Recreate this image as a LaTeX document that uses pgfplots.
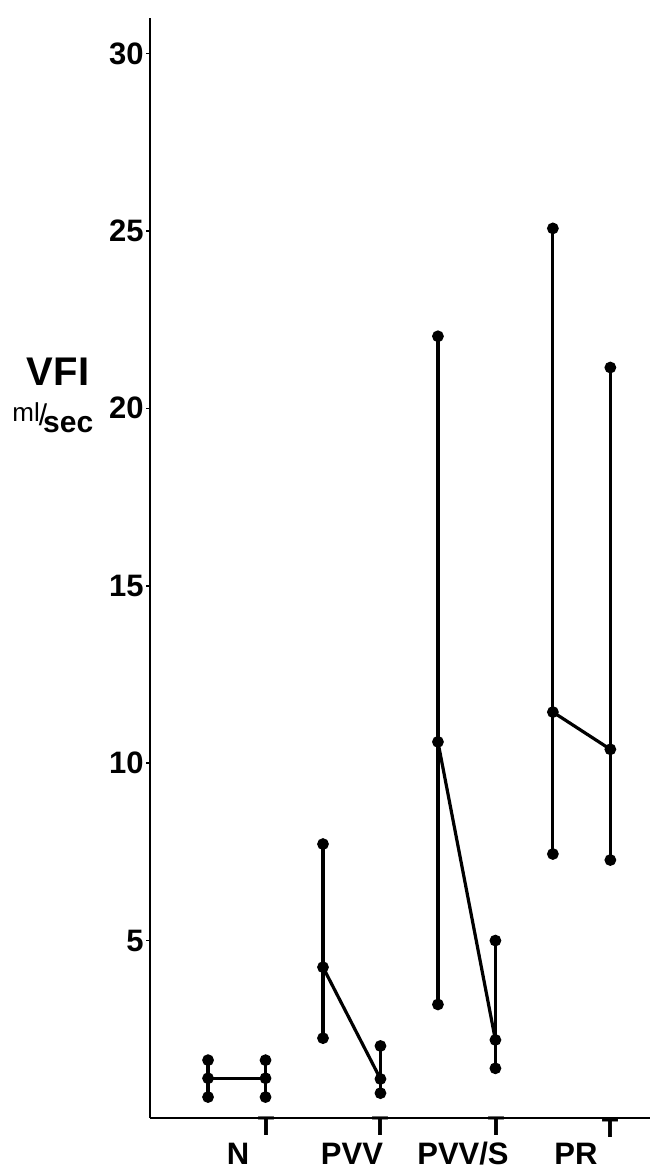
\documentclass[border=0pt]{standalone}
\usepackage{fontspec}
\setmainfont{Liberation Sans}
\usepackage{pgfplots}
\pgfplotsset{compat=1.18}
\begin{document}
\begin{tikzpicture}
\useasboundingbox (0,0) rectangle (325pt,588pt);
\begin{axis}[
  at={(75pt,29pt)}, anchor=south west,
  scale only axis, width=250pt, height=550pt,
  xmin=-1.01, xmax=7.69, ymin=0, ymax=31,
  axis lines=left,
  axis line style={line width=1.2pt, -},
  xtick=\empty,
  ytick={5,10,15,20,25,30},
  tick align=outside, major tick length=2pt,
  tick style={line width=0.8pt, black},
  yticklabel style={font=\fontsize{15.5}{15.5}\selectfont\bfseries, inner sep=1pt},
  /pgf/number format/assume math mode=true,
  clip=false,
  seg/.style={black, solid, line width=1.6pt, mark=*, mark size=2.1pt, mark options={solid, fill=black}},
]
% vertical ranges
\addplot[seg] coordinates {(0,0.59) (0,1.63)};
\addplot[seg] coordinates {(1,0.59) (1,1.63)};
\addplot[seg] coordinates {(2,2.25) (2,7.72)};
\addplot[seg] coordinates {(3,0.70) (3,2.03)};
\addplot[seg] coordinates {(4,3.2) (4,22.03)};
\addplot[seg] coordinates {(5,1.4) (5,5.0)};
\addplot[seg] coordinates {(6,7.44) (6,25.07)};
\addplot[seg] coordinates {(7,7.27) (7,21.15)};
% means connected
\addplot[seg] coordinates {(0,1.12) (1,1.12)};
\addplot[seg] coordinates {(2,4.25) (3,1.10)};
\addplot[seg] coordinates {(4,10.6) (5,2.2)};
\addplot[seg] coordinates {(6,11.44) (7,10.39)};
\end{axis}
\begin{scope}[every node/.style={inner sep=0pt, font=\fontsize{15.5}{15.5}\selectfont\bfseries}]
\node at (119pt,11pt) {N};
\node at (176pt,11pt) {PVV};
\node at (231.5pt,11pt) {PVV/S};
\node at (288pt,11pt) {PR};
\end{scope}
\begin{scope}[every node/.style={inner sep=0pt, anchor=north, font=\fontsize{13.5}{13.5}\selectfont\bfseries}]
\node at (133pt,29.5pt) {T};
\node at (190pt,29.5pt) {T};
\node at (248pt,29.5pt) {T};
\node at (305pt,28.5pt) {T};
\end{scope}
\node[inner sep=0pt, font=\fontsize{20}{20}\selectfont\bfseries] at (29pt,402pt) {VFI};
\node[inner sep=0pt, anchor=west] at (6pt,379pt) {\fontsize{13}{13}\selectfont ml\kern-0.5pt\raisebox{-2pt}{\fontsize{15}{15}\selectfont/}\kern-2pt\raisebox{-5.5pt}{\bfseries\fontsize{15}{15}\selectfont sec}};
\end{tikzpicture}
\end{document}
